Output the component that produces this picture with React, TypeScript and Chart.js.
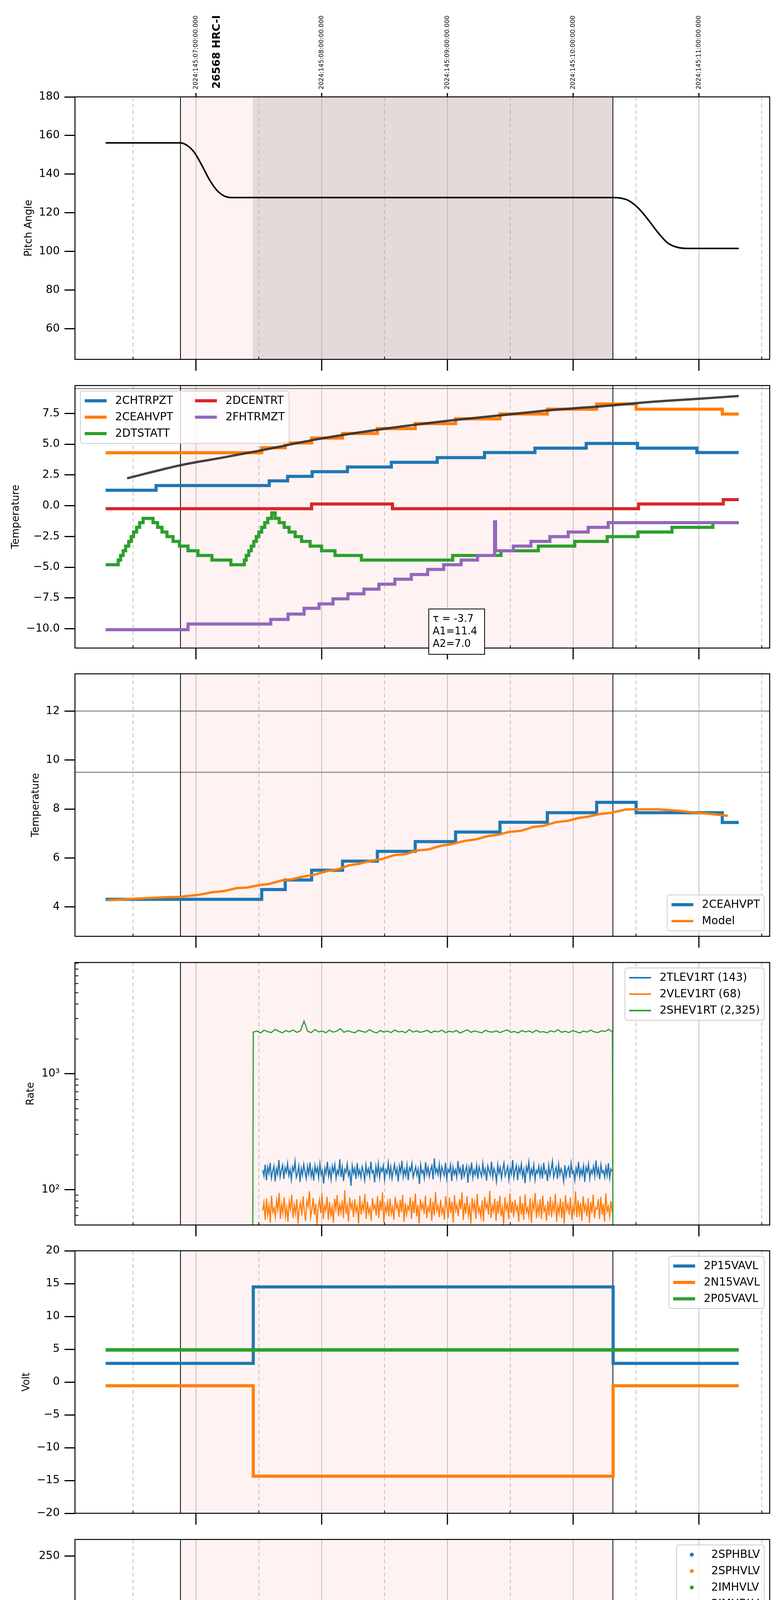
import React, { useEffect, useRef } from 'react';
import { Chart, registerables } from 'chart.js';

Chart.register(...registerables);

const FONT = '"DejaVu Sans", sans-serif';
const X_MIN = 2.038;
const X_MAX = 7.563;
const PLOT_RIGHT = 1971;
const PANEL_H = 672;

const BLUE = '#1f77b4';
const ORANGE = '#ff7f0e';
const GREEN = '#2ca02c';
const RED = '#d62728';
const PURPLE = '#9467bd';

// time axis (hours of 2024-05-24)
const hourTicks = [3, 4, 5, 6, 7];
const halfTicks = [2.5, 3.5, 4.5, 5.5, 6.5, 7.5];
const hourLabels = ['03h', '04h', '05h', '06h', '07h'];
const topLabels = ['2024:145:07:00:00.000', '2024:145:08:00:00.000', '2024:145:09:00:00.000', '2024:145:10:00:00.000', '2024:145:11:00:00.000'];
const obsStart = 2.877;
const obsEnd = 6.316;
const hvOn = 3.452;
const obsTitle = '26568 HRC-I';
const xTitle = '2024-05-24 (145)';

// panel 1
const pitchAngle = [[2.282, 156.2], [2.877, 156.2], [2.929, 154.9], [2.988, 151.2], [3.048, 144.5], [3.107, 137.2], [3.166, 131.7], [3.226, 128.7], [3.285, 127.9], [6.314, 127.9], [6.378, 127.6], [6.437, 126.5], [6.516, 122.6], [6.596, 116.5], [6.675, 109.8], [6.754, 104.3], [6.833, 102.1], [6.913, 101.6], [7.317, 101.6]];

// panel 2
const chtrpzt = [[2.282, 1.26], [2.683, 1.64], [3.583, 2.02], [3.729, 2.39], [3.924, 2.77], [4.205, 3.15], [4.554, 3.53], [4.919, 3.91], [5.295, 4.32], [5.696, 4.68], [6.104, 5.06], [6.512, 4.68], [6.984, 4.32], [7.317, 4.32]];
const ceahvpt = [[2.282, 4.31], [3.523, 4.71], [3.710, 5.10], [3.920, 5.50], [4.166, 5.87], [4.443, 6.27], [4.744, 6.67], [5.065, 7.06], [5.418, 7.46], [5.795, 7.85], [6.187, 8.27], [6.501, 7.85], [7.186, 7.45], [7.317, 7.45]];
const dtstatt = [[2.282, -4.80], [2.382, -4.42], [2.401, -4.04], [2.421, -3.66], [2.441, -3.28], [2.465, -2.90], [2.485, -2.51], [2.504, -2.14], [2.528, -1.76], [2.552, -1.38], [2.580, -1.03], [2.659, -1.38], [2.695, -1.76], [2.730, -2.14], [2.770, -2.51], [2.818, -2.90], [2.869, -3.28], [2.937, -3.66], [3.016, -4.04], [3.127, -4.42], [3.278, -4.80], [3.385, -4.42], [3.400, -4.04], [3.420, -3.66], [3.440, -3.28], [3.460, -2.90], [3.480, -2.51], [3.500, -2.14], [3.523, -1.76], [3.547, -1.38], [3.571, -1.03], [3.603, -0.58], [3.630, -1.03], [3.662, -1.38], [3.702, -1.76], [3.741, -2.14], [3.789, -2.51], [3.840, -2.90], [3.908, -3.28], [3.999, -3.66], [4.106, -4.04], [4.316, -4.42], [5.042, -4.04], [5.426, -3.66], [5.723, -3.28], [6.013, -2.90], [6.271, -2.51], [6.516, -2.14], [6.786, -1.76], [7.111, -1.38], [7.317, -1.38]];
const dcentrt = [[2.282, -0.24], [3.920, 0.14], [4.563, -0.24], [6.520, 0.14], [7.194, 0.50], [7.317, 0.50]];
const fhtrmzt = [[2.282, -10.08], [2.937, -9.62], [3.595, -9.24], [3.733, -8.81], [3.860, -8.34], [3.979, -7.98], [4.090, -7.57], [4.209, -7.16], [4.336, -6.78], [4.455, -6.38], [4.582, -5.97], [4.713, -5.59], [4.843, -5.18], [4.970, -4.80], [5.109, -4.42], [5.240, -4.04], [5.375, -1.31], [5.383, -3.66], [5.525, -3.28], [5.664, -2.90], [5.815, -2.51], [5.961, -2.14], [6.120, -1.76], [6.279, -1.38], [7.317, -1.38]];
const fitCurve = [[2.453, 2.23], [2.631, 2.69], [2.881, 3.30], [3.226, 3.94], [3.523, 4.51], [3.979, 5.43], [4.455, 6.19], [5.010, 6.91], [5.406, 7.33], [5.803, 7.75], [6.314, 8.16], [6.596, 8.42], [6.992, 8.69], [7.317, 8.92]];
const fitText = ['τ = -3.7', 'A1=11.4', 'A2=7.0'];

// panel 3
const modelT = [[2.294, 4.27], [2.493, 4.33], [2.651, 4.37], [2.770, 4.40], [2.869, 4.41], [3.028, 4.50], [3.127, 4.60], [3.226, 4.65], [3.325, 4.77], [3.404, 4.79], [3.503, 4.89], [3.583, 4.94], [3.682, 5.08], [3.761, 5.13], [3.860, 5.25], [3.940, 5.31], [4.039, 5.46], [4.138, 5.55], [4.217, 5.70], [4.296, 5.76], [4.395, 5.89], [4.475, 5.95], [4.574, 6.11], [4.673, 6.16], [4.752, 6.30], [4.851, 6.35], [4.950, 6.50], [5.030, 6.56], [5.129, 6.69], [5.228, 6.76], [5.327, 6.90], [5.406, 6.95], [5.486, 7.06], [5.585, 7.11], [5.684, 7.27], [5.763, 7.31], [5.862, 7.46], [5.961, 7.52], [6.041, 7.63], [6.120, 7.69], [6.219, 7.80], [6.298, 7.84], [6.417, 7.98], [6.516, 7.99], [6.675, 7.99], [6.754, 7.96], [6.853, 7.92], [6.952, 7.86], [7.071, 7.81], [7.230, 7.72]];

// panel 4 (regularly sampled rates)
const tlevSpan = [3.531, 6.310];
const tlevRate = [148, 132, 165, 121, 157, 139, 171, 126, 144, 160, 118, 152, 136, 181, 129, 147, 163, 124, 155, 141,
  169, 133, 150, 122, 158, 145, 176, 128, 139, 161, 117, 153, 134, 166, 143, 125, 159, 137, 172, 130,
  149, 120, 162, 140, 156, 127, 168, 135, 146, 113, 154, 138, 174, 131, 151, 123, 160, 142, 165, 126,
  147, 136, 183, 129, 157, 119, 150, 141, 167, 132, 145, 108, 161, 138, 153, 124, 170, 134, 148, 128,
  158, 143, 121, 164, 137, 152, 130, 175, 140, 146, 116, 159, 135, 168, 127, 154, 144, 162, 122, 149,
  139, 171, 131, 157, 125, 146, 166, 136, 152, 118, 160, 141, 178, 129, 150, 133, 163, 121, 155, 145,
  169, 128, 142, 158, 134, 151, 112, 164, 139, 147, 126, 173, 137, 156, 130, 148, 161, 123, 186, 140,
  152, 135, 166, 127, 158, 144, 133, 171, 125, 150, 142, 164, 119, 157, 136, 149, 128, 177, 140, 153,
  122, 166, 131, 145, 160, 115, 155, 138, 172, 127, 148, 135, 163, 124, 158, 143, 130, 169, 137, 151,
  120, 161, 146, 134, 175, 129, 153, 141, 118, 165, 139, 156, 126, 149, 170, 132, 144, 159, 123, 152,
  137, 181, 128, 147, 162, 121, 156, 140, 167, 130, 149, 114, 158, 143, 173, 126, 151, 136, 164, 122,
  147, 139, 160, 131, 155, 125, 171, 138, 146, 119, 162, 133, 150, 176, 128, 143, 157, 124, 166, 135,
  152, 141, 118, 163, 130, 148, 158, 127, 169, 139, 145, 121, 154, 137, 174, 129, 150, 134, 161, 117,
  156, 142, 167, 125, 148, 138, 159, 131, 179, 136, 153, 123, 164, 140, 146, 128, 157, 133, 170, 126,
  151, 144];
const vlevSpan = [3.531, 6.310];
const vlevRate = [66, 78, 55, 84, 61, 73, 52, 89, 64, 70, 58, 81, 67, 94, 56, 75, 63, 86, 59, 71,
  53, 79, 68, 91, 57, 74, 62, 83, 51, 69, 77, 60, 88, 65, 54, 80, 72, 97, 58, 67,
  85, 61, 76, 50, 70, 82, 63, 93, 56, 73, 66, 87, 55, 78, 60, 71, 52, 84, 68, 90,
  59, 75, 64, 81, 57, 99, 62, 74, 53, 86, 69, 77, 58, 83, 65, 72, 51, 89, 61, 76,
  67, 92, 56, 79, 63, 70, 54, 85, 68, 74, 60, 88, 57, 81, 66, 95, 52, 73, 64, 78,
  59, 84, 62, 71, 55, 87, 69, 75, 58, 82, 64, 90, 53, 77, 61, 72, 67, 86, 56, 80,
  63, 93, 59, 74, 51, 83, 68, 76, 62, 89, 57, 71, 65, 85, 54, 79, 60, 96, 66, 73,
  58, 82, 63, 70, 55, 88, 71, 57, 86, 63, 79, 52, 90, 66, 74, 59, 83, 68, 95, 55,
  77, 62, 88, 60, 72, 51, 85, 67, 78, 56, 92, 64, 70, 58, 81, 53, 87, 69, 76, 61,
  98, 57, 73, 65, 84, 54, 80, 62, 89, 59, 71, 50, 86, 67, 75, 56, 93, 63, 79, 58,
  82, 66, 72, 53, 88, 61, 77, 55, 91, 64, 70, 59, 85, 52, 78, 68, 94, 57, 74, 62,
  83, 56, 89, 65, 71, 54, 80, 60, 87, 58, 76, 66, 92, 53, 73, 63, 84, 57, 79, 51,
  90, 67, 75, 61, 86, 55, 72, 64, 97, 58, 81, 62, 77, 54, 88, 66, 74, 59, 85, 52,
  79, 63, 91, 57, 70, 68, 83, 56, 87, 61, 76, 53, 93, 65, 72, 59, 80, 64];
const shevSpan = [3.456, 6.312];
const shevRate = [2290, 2340, 2250, 2380, 2310, 2270, 2420, 2330, 2260, 2360, 2300, 2390, 2280, 2350, 2850, 2320, 2270, 2410, 2300, 2340,
  2260, 2380, 2290, 2330, 2450, 2280, 2350, 2300, 2260, 2370, 2320, 2280, 2400, 2310, 2250, 2360, 2290, 2340, 2270, 2390,
  2300, 2330, 2260, 2410, 2290, 2350, 2280, 2320, 2370, 2260, 2340, 2300, 2380, 2270, 2330, 2290, 2360, 2250, 2320, 2400,
  2280, 2340, 2300, 2260, 2370, 2310, 2290, 2350, 2270, 2330, 2390, 2280, 2320, 2250, 2360, 2300, 2340, 2270, 2380, 2290,
  2310, 2260, 2350, 2300, 2400, 2280, 2330, 2270, 2360, 2310, 2250, 2340, 2290, 2380, 2300, 2270, 2350, 2320, 2420, 2300];
const rateLabels = ['2TLEV1RT (143)', '2VLEV1RT (68)', '2SHEV1RT (2,325)'];

// panel 5
const p15vavl = [[2.282, 2.84], [3.456, 14.49], [6.318, 2.84], [7.317, 2.84]];
const n15vavl = [[2.282, -0.57], [3.456, -14.35], [6.318, -0.57], [7.317, -0.57]];
const p05vavl = [[2.282, 4.89], [7.317, 4.89]];

// panel 6
const sphblv: number[][] = [];
const sphvlv: number[][] = [];
const imhvlvDots = [[3.476, 100], [3.488, 95.6], [3.500, 90.5], [3.508, 86], [3.520, 82.3], [5.647, 127], [5.698, 127], [5.754, 127], [5.806, 127], [5.825, 127], [5.845, 127], [5.865, 127]];
const imhvlvLevel = [[3.532, 79], [6.317, 79]];
const imhblvDots = [[3.476, 127], [3.476, 124], [3.478, 119], [3.484, 106], [3.486, 104], [3.494, 101], [3.500, 97], [3.507, 93.7], [3.515, 90.5], [3.522, 88.6], [5.647, 79], [5.706, 79], [5.726, 79], [5.754, 79], [5.778, 79], [5.806, 79], [5.833, 79], [5.857, 79]];
const imhblvLevel = [[3.528, 86.1], [6.317, 86.1]];

// panel 7
const spinatm = [[3.456, 3.63], [3.472, 4.07], [3.492, 4.61], [3.511, 5.16], [3.543, 5.67], [3.563, 6.25], [3.587, 6.76], [3.611, 7.30], [3.642, 6.76], [3.674, 6.25], [3.702, 5.67], [3.733, 5.16], [3.761, 4.65], [3.801, 4.14], [3.860, 3.63], [3.920, 3.15], [4.007, 2.69], [4.130, 2.21], [4.328, 1.72], [5.180, 1.20], [5.192, 1.72],
  [5.636, -50], [5.648, 1.75], [5.660, -50], [5.672, 1.75], [5.684, -50], [5.696, 1.75], [5.735, -50], [5.747, 1.75], [5.759, -50], [5.771, 1.75], [5.783, -50], [5.795, 1.75], [5.807, -50], [5.819, 1.75], [5.831, -50], [5.843, 1.75], [5.855, -50], [5.867, 1.75], [5.879, -50], [5.891, 1.75], [5.902, 1.75], [6.284, -50], [6.288, -50]];
const sphvatm = [[3.456, 12.65], [3.967, 12.97], [4.284, 13.30], [4.562, 13.63], [4.843, 13.98], [5.121, 14.32], [5.406, 14.65],
  [5.644, 8.9], [5.656, 14.9], [5.668, 8.7], [5.680, 14.85], [5.692, 8.9], [5.704, 14.9], [5.712, -50], [5.716, 14.9], [5.728, 8.9], [5.740, 14.9], [5.752, 8.95], [5.764, 14.9], [5.776, 8.9], [5.788, 14.85], [5.800, 8.9], [5.812, 14.9], [5.824, 8.95], [5.836, 14.9], [5.848, 8.9], [5.862, -50], [5.866, 14.9], [5.878, 8.9], [5.890, 14.9], [5.902, 14.98], [6.049, 15.33], [6.279, 9.3], [6.285, 9.3]];
const iminatm = [[3.464, -1.41], [3.967, -0.97], [4.088, -1.50], [4.094, -0.97], [5.042, -0.54],
  [5.636, 1.75], [5.648, -0.6], [5.660, 1.75], [5.672, -0.6], [5.684, 1.75], [5.696, -0.6], [5.735, 1.75], [5.747, -0.6], [5.759, 1.75], [5.771, -0.6], [5.783, 1.75], [5.795, -0.6], [5.807, 1.75], [5.819, -0.6], [5.831, 1.75], [5.843, -0.6], [5.855, 1.75], [5.867, -0.6], [5.879, 1.75], [5.891, -0.6], [5.902, -0.54], [6.049, -0.10], [6.284, 1.75], [6.288, 1.75]];
const imhvatm = [[3.450, -50], [3.456, 11.96], [3.622, 12.31], [3.722, 12.65], [3.821, 12.97], [3.928, 13.30], [4.039, 13.63], [4.158, 13.98], [4.296, 14.32], [4.447, 14.65], [4.613, 15.00], [4.784, 15.33], [5.002, 15.70], [5.216, 16.03], [5.466, 16.40],
  [5.636, 14.90], [5.648, 16.75], [5.660, 14.95], [5.672, 16.80], [5.684, 14.85], [5.696, 16.70], [5.708, 14.90], [5.720, 16.75], [5.732, 14.95], [5.744, 16.80], [5.756, 14.90], [5.768, 16.75], [5.780, 14.85], [5.792, 16.70], [5.804, 14.95], [5.816, 16.80], [5.828, 14.90], [5.840, 16.75], [5.852, 14.90], [5.864, 16.70], [5.876, 14.95], [5.888, 16.75],
  [5.902, 16.74], [6.021, 17.08], [6.284, 15.30], [6.288, 17.08], [6.314, -50], [6.316, 50], [6.320, -50]];

// panel 8
const fradpyt = [[3.690, -50], [3.694, -10.49], [3.813, -10.06], [3.932, -9.64], [4.058, -9.22], [4.177, -8.80], [4.304, -8.39], [4.435, -7.98], [4.574, -7.58], [4.701, -7.16], [4.843, -6.77], [4.982, -6.37], [5.129, -5.99], [5.276, -5.58], [5.426, -5.20], [5.593, -4.80], [5.723, -4.42], [5.902, -4.04], [6.060, -3.65], [6.231, -3.26], [6.556, -2.87], [6.695, -2.49], [6.945, -2.87], [7.202, -3.26], [7.317, -3.26]];
const fepratm = [[3.452, -50], [3.456, -9.84], [3.503, -9.39], [3.543, -8.97], [3.583, -8.55], [3.642, -8.12], [3.710, -7.70], [3.789, -7.27], [3.868, -6.86], [3.967, -6.44], [4.066, -6.04], [4.177, -5.61], [4.296, -5.20], [4.415, -4.78], [4.542, -4.36], [4.673, -3.94], [4.804, -3.52], [4.939, -3.09], [5.089, -2.68], [5.240, -2.25], [5.387, -1.82], [5.545, -1.36],
  [5.636, -6.05], [5.648, -0.55], [5.660, -6.05], [5.672, -0.55], [5.684, -6.05], [5.696, -0.55], [5.735, -6.05], [5.747, -0.55], [5.759, -6.05], [5.771, -0.55], [5.783, -6.05], [5.795, -0.55], [5.807, -6.05], [5.819, -0.55], [5.831, -6.05], [5.843, -0.55], [5.855, -6.05], [5.867, -0.55], [5.879, -6.05], [5.891, -0.55],
  [5.902, -0.52], [6.060, -0.06], [6.247, 1.0], [6.279, -6.0], [6.283, -6.0]];
const fe00atm = [[3.579, -50], [3.583, -10.42], [3.694, -10.04], [3.781, -9.64], [3.868, -9.30], [3.947, -8.90], [4.039, -8.55], [4.130, -8.16], [4.215, -8.95], [4.219, -7.82], [4.296, -7.47], [4.395, -7.11], [4.495, -6.75], [4.606, -6.39], [4.701, -6.04], [4.804, -5.70], [4.919, -5.34], [5.030, -5.00], [5.129, -4.65], [5.149, -4.30], [5.153, -4.65], [5.240, -4.30], [5.347, -3.96], [5.434, -2.95], [5.438, -3.96], [5.462, -4.35], [5.466, -3.63], [5.585, -3.29],
  [5.636, 0.5], [5.648, -3.3], [5.660, 0.5], [5.672, -3.3], [5.684, 0.5], [5.696, -3.3], [5.708, 0.5], [5.712, -50], [5.716, 0.5], [5.728, -3.3], [5.740, 0.5], [5.752, -3.3], [5.764, 0.5], [5.776, -3.3], [5.788, 0.5], [5.800, -3.3], [5.812, 0.5], [5.824, -3.3], [5.836, 0.5], [5.848, -3.3], [5.858, -50], [5.862, -3.0], [5.874, 0.5], [5.886, -3.0],
  [5.902, -2.62], [5.942, -2.27], [6.060, -1.93], [6.199, -1.60], [6.310, -50], [6.316, 50], [6.320, -50]];

const pts = (arr: number[][]) => arr.map(([x, y]) => ({ x, y }));
const sampled = (span: number[], vals: number[]) =>
  vals.map((y, i) => ({ x: span[0] + (i * (span[1] - span[0])) / (vals.length - 1), y }));

const step = (label: string, data: any[], color: string, width: number, i: number, extra: any = {}) => ({
  label, data, borderColor: color, backgroundColor: color, borderWidth: width, pointRadius: 0,
  stepped: 'before', fill: false, order: -i, clip: 0, ...extra,
});
const curve = (label: string, data: any[], color: string, width: number, i: number) => ({
  label, data, borderColor: color, backgroundColor: color, borderWidth: width, pointRadius: 0,
  cubicInterpolationMode: 'monotone', fill: false, order: -i, clip: 0,
});
const straight = (label: string, data: any[], color: string, width: number, i: number) => ({
  label, data, borderColor: color, backgroundColor: color, borderWidth: width, pointRadius: 0,
  tension: 0, fill: false, order: -i, clip: 0,
});
const dots = (label: string, data: any[], color: string, i: number) => ({
  label, data, showLine: false, pointRadius: 5, pointBorderWidth: 0, pointBackgroundColor: color,
  borderColor: color, backgroundColor: color, order: -i, clip: 0,
});

const minus = (v: number, d: number) => (v < 0 ? '\u2212' : '') + Math.abs(v).toFixed(d);
const lineItem = (label: string, color: string, width: number) => ({ label, color, width });
const dotItem = (label: string, color: string) => ({ label, color, dot: 5 });

function drawLegend(ctx: CanvasRenderingContext2D, a: any, leg: any) {
  const fs = 28, pad = 11, hl = 56, htp = 22, csp = 56, gap = 14, inset = 14;
  ctx.save();
  ctx.font = `${fs}px ${FONT}`;
  const nrow = Math.ceil(leg.items.length / leg.ncol);
  const cols: any[][] = [];
  for (let c = 0; c < leg.ncol; c++) cols.push(leg.items.slice(c * nrow, (c + 1) * nrow));
  const colW = cols.map((col) => hl + htp + Math.max(...col.map((it: any) => ctx.measureText(it.label).width)));
  const w = 2 * pad + colW.reduce((s, v) => s + v, 0) + (leg.ncol - 1) * csp;
  const h = 2 * pad + nrow * fs + (nrow - 1) * gap;
  const x = leg.loc === 'ul' ? a.left + inset : a.right - inset - w;
  const y = leg.loc === 'lr' ? a.bottom - inset - h : a.top + inset;
  ctx.beginPath();
  ctx.roundRect(x, y, w, h, 6);
  ctx.fillStyle = 'rgba(255,255,255,0.8)';
  ctx.fill();
  ctx.strokeStyle = '#cccccc';
  ctx.lineWidth = 2;
  ctx.stroke();
  let cx = x + pad;
  cols.forEach((col, c) => {
    col.forEach((it: any, r: number) => {
      const cy = y + pad + fs / 2 + r * (fs + gap);
      if (it.dot) {
        ctx.beginPath();
        ctx.arc(cx + hl / 2, cy, it.dot, 0, Math.PI * 2);
        ctx.fillStyle = it.color;
        ctx.fill();
      } else {
        ctx.beginPath();
        ctx.moveTo(cx, cy);
        ctx.lineTo(cx + hl, cy);
        ctx.strokeStyle = it.color;
        ctx.lineWidth = it.width;
        ctx.stroke();
      }
      ctx.fillStyle = 'black';
      ctx.textAlign = 'left';
      ctx.textBaseline = 'middle';
      ctx.fillText(it.label, cx + hl + htp, cy + 1);
    });
    cx += colW[c] + csp;
  });
  ctx.restore();
}

const vline = (ctx: CanvasRenderingContext2D, x: number, y0: number, y1: number) => {
  ctx.beginPath();
  ctx.moveTo(x, y0);
  ctx.lineTo(x, y1);
  ctx.stroke();
};

const decor = (spec: any) => ({
  id: 'decor',
  beforeDatasetsDraw(chart: any) {
    const { ctx, chartArea: a } = chart;
    const xs = chart.scales.x, ys = chart.scales.y;
    const px = (v: number) => xs.getPixelForValue(v);
    ctx.save();
    ctx.fillStyle = 'rgba(255,0,0,0.05)';
    ctx.fillRect(px(obsStart), a.top, px(obsEnd) - px(obsStart), a.bottom - a.top);
    if (spec.darkSpan) {
      ctx.fillStyle = '#e4dada';
      ctx.fillRect(px(hvOn), a.top, px(obsEnd) - px(hvOn), a.bottom - a.top);
    }
    ctx.strokeStyle = '#b0b0b0';
    ctx.lineWidth = 1.6;
    hourTicks.forEach((h) => vline(ctx, px(h), a.top, a.bottom));
    ctx.setLineDash([10, 7]);
    halfTicks.forEach((h) => vline(ctx, px(h), a.top, a.bottom));
    ctx.setLineDash([]);
    ctx.strokeStyle = '#808080';
    ctx.lineWidth = 2.5;
    (spec.hlines || []).forEach((v: number) => {
      const y = ys.getPixelForValue(v);
      ctx.beginPath();
      ctx.moveTo(a.left, y);
      ctx.lineTo(a.right, y);
      ctx.stroke();
    });
    ctx.strokeStyle = 'black';
    ctx.lineWidth = 2;
    vline(ctx, px(obsStart), a.top, a.bottom);
    vline(ctx, px(obsEnd), a.top, a.bottom);
    ctx.restore();
  },
  afterDatasetsDraw(chart: any) {
    const { ctx, chartArea: a } = chart;
    const xs = chart.scales.x, ys = chart.scales.y;
    const px = (v: number) => xs.getPixelForValue(v);
    ctx.save();
    ctx.strokeStyle = 'black';
    ctx.lineWidth = 2.5;
    ctx.strokeRect(a.left, a.top, a.right - a.left, a.bottom - a.top);
    ctx.lineWidth = 3;
    hourTicks.forEach((h) => vline(ctx, px(h), a.bottom, a.bottom + 29));
    ctx.lineWidth = 2;
    halfTicks.forEach((h) => vline(ctx, px(h), a.bottom, a.bottom - 7));
    if (spec.minorLog) {
      spec.minorLog.forEach((v: number) => {
        const y = ys.getPixelForValue(v);
        ctx.beginPath();
        ctx.moveTo(a.left, y);
        ctx.lineTo(a.left + 9, y);
        ctx.stroke();
      });
    }
    // y label
    ctx.fillStyle = 'black';
    ctx.font = `26px ${FONT}`;
    ctx.textAlign = 'center';
    ctx.textBaseline = 'middle';
    ctx.translate(spec.ylabelX, (a.top + a.bottom) / 2);
    ctx.rotate(-Math.PI / 2);
    ctx.fillText(spec.ylabel, 0, 0);
    ctx.restore();

    if (spec.topAxis) {
      ctx.save();
      ctx.strokeStyle = 'black';
      ctx.lineWidth = 3;
      hourTicks.forEach((h) => vline(ctx, px(h), a.top, a.top - 10));
      ctx.fillStyle = 'black';
      ctx.textAlign = 'left';
      ctx.textBaseline = 'middle';
      topLabels.forEach((t, i) => {
        ctx.save();
        ctx.translate(px(hourTicks[i]), a.top - 19);
        ctx.rotate(-Math.PI / 2);
        ctx.font = `16px ${FONT}`;
        ctx.fillText(t, 0, 0);
        ctx.restore();
      });
      ctx.save();
      ctx.translate(px(3.168), a.top - 21);
      ctx.rotate(-Math.PI / 2);
      ctx.font = `bold 27px ${FONT}`;
      ctx.fillText(obsTitle, 0, 0);
      ctx.restore();
      ctx.restore();
    }

    if (spec.xLabels) {
      ctx.save();
      ctx.fillStyle = 'black';
      ctx.textAlign = 'center';
      ctx.textBaseline = 'middle';
      ctx.font = `17px ${FONT}`;
      halfTicks.forEach((h) => ctx.fillText('30', px(h), a.bottom + 17));
      ctx.font = `28px ${FONT}`;
      hourTicks.forEach((h, i) => ctx.fillText(hourLabels[i], px(h), a.bottom + 51));
      ctx.fillText(xTitle, (a.left + a.right) / 2, a.bottom + 90);
      ctx.restore();
    }

    if (spec.fitBox) {
      ctx.save();
      const bx = a.left + 906, by = a.top + 572, bw = 143, bh = 116;
      ctx.fillStyle = 'white';
      ctx.fillRect(bx, by, bw, bh);
      ctx.strokeStyle = 'black';
      ctx.lineWidth = 2;
      ctx.strokeRect(bx, by, bw, bh);
      ctx.fillStyle = 'black';
      ctx.font = `26px ${FONT}`;
      ctx.textAlign = 'left';
      ctx.textBaseline = 'middle';
      fitText.forEach((t, i) => ctx.fillText(t, bx + 10, by + 26 + i * 32));
      ctx.restore();
    }

    if (spec.legend) drawLegend(ctx, a, spec.legend);
  },
});

const panelTops = [248, 987, 1725, 2464, 3202, 3941, 4680, 5418];

const panels: any[] = [
  {
    ylabel: 'Pitch Angle', ylabelX: 74, yMin: 44.2, yMax: 180, yTicks: [60, 80, 100, 120, 140, 160, 180],
    yFmt: (v: number) => String(v), darkSpan: true, topAxis: true,
    datasets: [curve('Pitch', pts(pitchAngle), 'black', 4, 0)],
  },
  {
    ylabel: 'Temperature', ylabelX: 41, yMin: -11.57, yMax: 9.77, yTicks: [-10, -7.5, -5, -2.5, 0, 2.5, 5, 7.5],
    yFmt: (v: number) => minus(v, 1), hlines: [9.52], fitBox: true,
    datasets: [
      step('2CHTRPZT', pts(chtrpzt), BLUE, 8, 0),
      step('2CEAHVPT', pts(ceahvpt), ORANGE, 8, 1),
      step('2DTSTATT', pts(dtstatt), GREEN, 8, 2),
      step('2DCENTRT', pts(dcentrt), RED, 8, 3),
      step('2FHTRMZT', pts(fhtrmzt), PURPLE, 8, 4),
      curve('fit', pts(fitCurve), 'rgba(50,45,45,0.9)', 6, 5),
    ],
    legend: { loc: 'ul', ncol: 2, items: [lineItem('2CHTRPZT', BLUE, 8), lineItem('2CEAHVPT', ORANGE, 8), lineItem('2DTSTATT', GREEN, 8), lineItem('2DCENTRT', RED, 8), lineItem('2FHTRMZT', PURPLE, 8)] },
  },
  {
    ylabel: 'Temperature', ylabelX: 92, yMin: 2.8, yMax: 13.52, yTicks: [4, 6, 8, 10, 12],
    yFmt: (v: number) => String(v), hlines: [12, 9.5],
    datasets: [
      step('2CEAHVPT', pts(ceahvpt), BLUE, 8, 0),
      straight('Model', pts(modelT), ORANGE, 6, 1),
    ],
    legend: { loc: 'lr', ncol: 1, items: [lineItem('2CEAHVPT', BLUE, 8), lineItem('Model', ORANGE, 6)] },
  },
  {
    ylabel: 'Rate', ylabelX: 79, yType: 'logarithmic', yMin: 49.7, yMax: 9120, yTicks: [100, 1000],
    yFmt: (v: number) => (v === 100 ? '10²' : '10³'),
    minorLog: [60, 70, 80, 90, 200, 300, 400, 500, 600, 700, 800, 900, 2000, 3000, 4000, 5000, 6000, 7000, 8000, 9000],
    datasets: [
      straight(rateLabels[0], sampled(tlevSpan, tlevRate), BLUE, 3, 0),
      straight(rateLabels[1], sampled(vlevSpan, vlevRate), ORANGE, 3, 1),
      straight(rateLabels[2], [{ x: 3.452, y: 40 }, ...sampled(shevSpan, shevRate), { x: 6.316, y: 40 }], GREEN, 3, 2),
    ],
    legend: { loc: 'ur', ncol: 1, items: [lineItem(rateLabels[0], BLUE, 4), lineItem(rateLabels[1], ORANGE, 4), lineItem(rateLabels[2], GREEN, 4)] },
  },
  {
    ylabel: 'Volt', ylabelX: 68, yMin: -20, yMax: 20, yTicks: [-20, -15, -10, -5, 0, 5, 10, 15, 20],
    yFmt: (v: number) => minus(v, 0),
    datasets: [
      step('2P15VAVL', pts(p15vavl), BLUE, 8, 0),
      step('2N15VAVL', pts(n15vavl), ORANGE, 8, 1),
      step('2P05VAVL', pts(p05vavl), GREEN, 9, 2),
    ],
    legend: { loc: 'ur', ncol: 1, items: [lineItem('2P15VAVL', BLUE, 8), lineItem('2N15VAVL', ORANGE, 8), lineItem('2P05VAVL', GREEN, 8)] },
  },
  {
    ylabel: 'HV Monitor', ylabelX: 75, yMin: 0, yMax: 266.9, yTicks: [0, 50, 100, 150, 200, 250],
    yFmt: (v: number) => String(v),
    datasets: [
      dots('2SPHBLV', pts(sphblv), BLUE, 0),
      dots('2SPHVLV', pts(sphvlv), ORANGE, 1),
      step('2IMHVLV', pts(imhvlvLevel), GREEN, 10, 2, { borderCapStyle: 'round' }),
      dots('2IMHVLV', pts(imhvlvDots), GREEN, 2.5),
      step('2IMHBLV', pts(imhblvLevel), RED, 10, 3, { borderCapStyle: 'round' }),
      dots('2IMHBLV', pts(imhblvDots), RED, 3.5),
    ],
    legend: { loc: 'ur', ncol: 1, items: [dotItem('2SPHBLV', BLUE), dotItem('2SPHVLV', ORANGE), dotItem('2IMHVLV', GREEN), dotItem('2IMHBLV', RED)] },
  },
  {
    ylabel: 'Detector Temp', ylabelX: 64, yMin: -2.48, yMax: 17.9, yTicks: [0, 2.5, 5, 7.5, 10, 12.5, 15, 17.5],
    yFmt: (v: number) => minus(v, 1),
    datasets: [
      step('2SPINATM', pts(spinatm), BLUE, 8, 0),
      step('2SPHVATM', pts(sphvatm), ORANGE, 8, 1),
      step('2IMINATM', pts(iminatm), GREEN, 8, 2),
      step('2IMHVATM', pts(imhvatm), RED, 8, 3),
    ],
    legend: { loc: 'ur', ncol: 1, items: [lineItem('2SPINATM', BLUE, 8), lineItem('2SPHVATM', ORANGE, 8), lineItem('2IMINATM', GREEN, 8), lineItem('2IMHVATM', RED, 8)] },
  },
  {
    ylabel: 'FEA Temp', ylabelX: 68, yMin: -10.71, yMax: 0.15, yTicks: [-10, -8, -6, -4, -2, 0],
    yFmt: (v: number) => minus(v, 0), xLabels: true,
    datasets: [
      step('2FHTRMZT', pts(fhtrmzt), BLUE, 8, 0),
      step('2FRADPYT', pts(fradpyt), ORANGE, 8, 1),
      step('2FEPRATM', pts(fepratm), GREEN, 8, 2),
      step('2FE00ATM', pts(fe00atm), RED, 8, 3),
    ],
    legend: { loc: 'ul', ncol: 1, items: [lineItem('2FHTRMZT', BLUE, 8), lineItem('2FRADPYT', ORANGE, 8), lineItem('2FEPRATM', GREEN, 8), lineItem('2FE00ATM', RED, 8)] },
  },
].map((p, i) => ({
  ...p,
  top: panelTops[i],
  canvasTop: i === 0 ? 0 : panelTops[i] - 33,
  canvasBottom: i === 7 ? 6200 : panelTops[i] + PANEL_H + 33,
}));

function Panel({ spec }: { spec: any }) {
  const ref = useRef<HTMLCanvasElement | null>(null);
  const h = spec.canvasBottom - spec.canvasTop;
  useEffect(() => {
    if (!ref.current) return;
    const chart = new Chart(ref.current, {
      type: 'line',
      data: { datasets: spec.datasets },
      options: {
        animation: false,
        responsive: false,
        maintainAspectRatio: false,
        devicePixelRatio: 1,
        events: [],
        layout: {
          padding: {
            top: spec.top - spec.canvasTop,
            bottom: spec.canvasBottom - spec.top - PANEL_H,
            left: 0,
            right: 2000 - PLOT_RIGHT,
          },
        },
        plugins: { legend: { display: false }, tooltip: { enabled: false } },
        scales: {
          x: { type: 'linear', display: false, min: X_MIN, max: X_MAX },
          y: {
            type: spec.yType || 'linear',
            min: spec.yMin,
            max: spec.yMax,
            afterFit: (s: any) => { s.width = 192; },
            afterBuildTicks: (s: any) => { s.ticks = spec.yTicks.map((v: number) => ({ value: v })); },
            ticks: {
              callback: (v: any) => spec.yFmt(Number(v)),
              font: { family: 'DejaVu Sans', size: 28 },
              color: 'black',
              padding: 12,
              autoSkip: false,
            },
            grid: { drawOnChartArea: false, tickLength: 27, tickWidth: 3, tickColor: 'black' },
            border: { display: false },
          },
        },
      } as any,
      plugins: [decor(spec)],
    });
    return () => chart.destroy();
  }, [spec]);
  return (
    <canvas
      ref={ref}
      width={2000}
      height={h}
      style={{ position: 'absolute', left: 0, top: spec.canvasTop, width: 2000, height: h }}
    />
  );
}

export default function App() {
  return (
    <div style={{ position: 'absolute', left: 0, top: 0, width: 2000, height: 6200, background: 'white' }}>
      {panels.map((p, i) => (
        <Panel key={i} spec={p} />
      ))}
    </div>
  );
}
